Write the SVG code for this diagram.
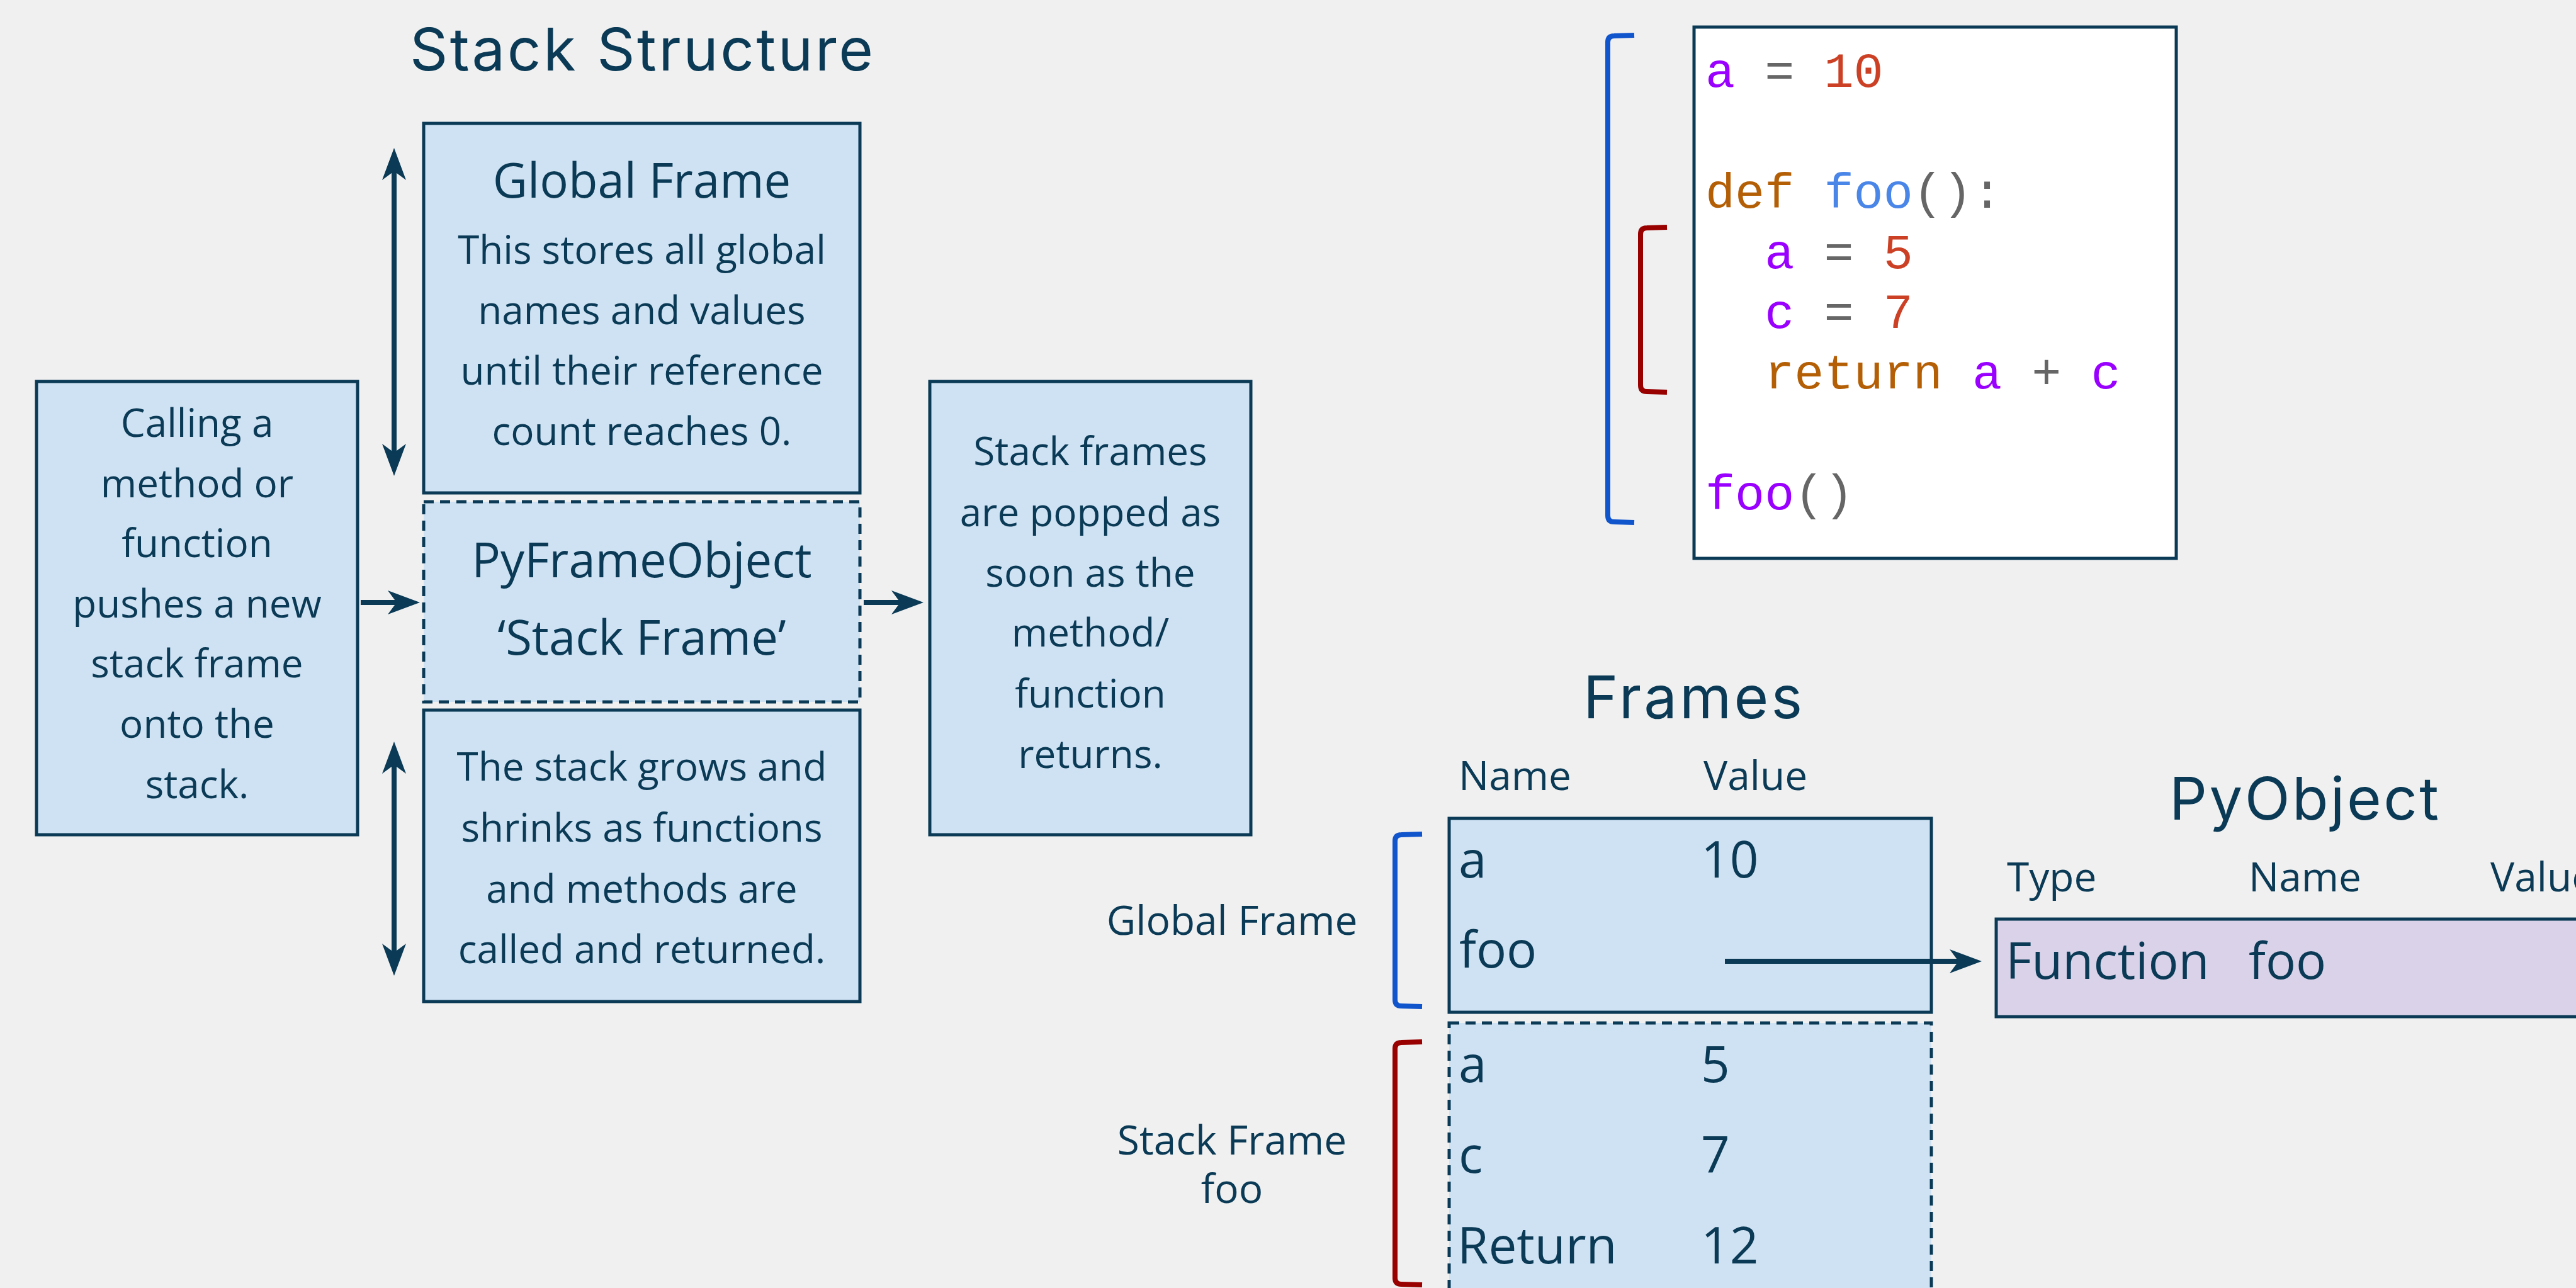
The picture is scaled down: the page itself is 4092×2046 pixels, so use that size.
<svg xmlns="http://www.w3.org/2000/svg" width="4092" height="2046" viewBox="0 0 4092 2046">
<defs>
<style>
.bg{fill:#f0f0f0}
.box{fill:#cfe2f3;stroke:#0a3a55;stroke-width:5}
.dash{stroke-dasharray:16 10}
.pur{fill:#d9d2e9;stroke:#0a3a55;stroke-width:5}
.code{fill:#ffffff;stroke:#0a3a55;stroke-width:5}
.t{font-family:"Open Sans","Noto Sans",sans-serif;fill:#0a3a55}
.c{text-anchor:middle}
.body{font-size:62px}
.head{font-size:76px}
.cell{font-size:80px}
.col{font-size:64px}
.title{font-family:Inter,"Open Sans",sans-serif;font-size:94px;fill:#0a3a55;text-anchor:middle}
.mono{font-family:"Liberation Mono","Courier New",monospace;font-size:78.5px}
.v{fill:#9900ff}.g{fill:#666666}.n{fill:#cc4125}.k{fill:#b45f06}.f{fill:#4a86e8}
.conn{stroke:#0a3a55;stroke-width:8;fill:none}
.brb{stroke:#1155cc;stroke-width:8;fill:none}
.brr{stroke:#990000;stroke-width:8;fill:none}
</style>
<marker id="ah" markerUnits="userSpaceOnUse" viewBox="-60 -22 62 44" refX="-30" refY="0" markerWidth="62" markerHeight="44" orient="auto-start-reverse">
<path d="M0,0 L-51,-19 L-37,0 L-51,19 Z" fill="#0a3a55"/>
</marker>
</defs>
<rect class="bg" x="0" y="0" width="4092" height="2046"/>

<g id="title-stack">
<text class="title" x="1019" y="112" textLength="736" lengthAdjust="spacing">Stack Structure</text>
</g>

<g id="global-frame">
<rect class="box" x="673" y="196" width="693" height="587"/>
<text class="t c head" x="1019.5" y="314">Global Frame</text>
<text class="t c body" x="1019.5" y="419">This stores all global</text>
<text class="t c body" x="1019.5" y="515">names and values</text>
<text class="t c body" x="1019.5" y="611">until their reference</text>
<text class="t c body" x="1019.5" y="707">count reaches 0.</text>
</g>

<g id="pyframeobject">
<rect class="box dash" x="673" y="797" width="693" height="318"/>
<text class="t c head" x="1019.5" y="917">PyFrameObject</text>
<text class="t c head" x="1019.5" y="1040">‘Stack Frame’</text>
</g>

<g id="stack-grows">
<rect class="box" x="673" y="1128" width="693" height="463"/>
<text class="t c body" x="1019.5" y="1240">The stack grows and</text>
<text class="t c body" x="1019.5" y="1337">shrinks as functions</text>
<text class="t c body" x="1019.5" y="1434">and methods are</text>
<text class="t c body" x="1019.5" y="1530">called and returned.</text>
</g>

<g id="calling">
<rect class="box" x="58" y="606" width="510" height="720"/>
<text class="t c body" x="313" y="694">Calling a</text>
<text class="t c body" x="313" y="790">method or</text>
<text class="t c body" x="313" y="885">function</text>
<text class="t c body" x="313" y="981">pushes a new</text>
<text class="t c body" x="313" y="1076">stack frame</text>
<text class="t c body" x="313" y="1172">onto the</text>
<text class="t c body" x="313" y="1268">stack.</text>
</g>

<g id="popped">
<rect class="box" x="1477" y="606" width="510" height="720"/>
<text class="t c body" x="1732" y="739">Stack frames</text>
<text class="t c body" x="1732" y="836">are popped as</text>
<text class="t c body" x="1732" y="932">soon as the</text>
<text class="t c body" x="1732" y="1027">method/</text>
<text class="t c body" x="1732" y="1124">function</text>
<text class="t c body" x="1732" y="1220">returns.</text>
</g>

<g id="code">
<rect class="code" x="2691" y="43" width="766" height="844"/>
<text class="mono" x="2709" y="138"><tspan class="v">a</tspan><tspan class="g"> = </tspan><tspan class="n">10</tspan></text>
<text class="mono" x="2709" y="330"><tspan class="k">def</tspan><tspan> </tspan><tspan class="f">foo</tspan><tspan class="g">():</tspan></text>
<text class="mono" x="2709" y="426" xml:space="preserve"><tspan class="v">  a</tspan><tspan class="g"> = </tspan><tspan class="n">5</tspan></text>
<text class="mono" x="2709" y="521" xml:space="preserve"><tspan class="v">  c</tspan><tspan class="g"> = </tspan><tspan class="n">7</tspan></text>
<text class="mono" x="2709" y="617" xml:space="preserve"><tspan class="k">  return</tspan><tspan class="v"> a</tspan><tspan class="g"> + </tspan><tspan class="v">c</tspan></text>
<text class="mono" x="2709" y="809"><tspan class="v">foo</tspan><tspan class="g">()</tspan></text>
</g>

<g id="code-brackets">
<path class="brb" d="M2596,56 L2564,57 Q2554,57 2554,67 L2554,819 Q2554,829 2564,829 L2596,830"/>
<path class="brr" d="M2648,361 L2616,362 Q2606,362 2606,372 L2606,612 Q2606,622 2616,622 L2648,623"/>
</g>

<g id="title-frames">
<text class="title" x="2689" y="1141" textLength="348" lengthAdjust="spacing">Frames</text>
<text class="t col" x="2317" y="1255">Name</text>
<text class="t col" x="2706" y="1255">Value</text>
</g>

<g id="frame-global">
<rect class="box" x="2302" y="1300" width="766" height="308"/>
<text class="t cell" x="2317" y="1394">a</text>
<text class="t cell" x="2702" y="1394">10</text>
<text class="t cell" x="2318" y="1537">foo</text>
</g>

<g id="frame-stack">
<rect class="box dash" x="2302" y="1625" width="766" height="460"/>
<text class="t cell" x="2317" y="1719">a</text>
<text class="t cell" x="2702" y="1719">5</text>
<text class="t cell" x="2317" y="1863">c</text>
<text class="t cell" x="2702" y="1863">7</text>
<text class="t cell" x="2315" y="2007">Return</text>
<text class="t cell" x="2702" y="2007">12</text>
</g>

<g id="frame-labels">
<path class="brb" d="M2259,1325 L2226,1326 Q2216,1326 2216,1336 L2216,1588 Q2216,1598 2226,1598 L2259,1599"/>
<path class="brr" d="M2259,1655 L2226,1656 Q2216,1656 2216,1666 L2216,2030 Q2216,2040 2226,2040 L2259,2041"/>
<text class="t c col" x="1957" y="1485">Global Frame</text>
<text class="t c col" x="1957" y="1834">Stack Frame</text>
<text class="t c col" x="1957" y="1911">foo</text>
</g>

<g id="pyobject">
<text class="title" x="3660" y="1302" textLength="428" lengthAdjust="spacing">PyObject</text>
<text class="t col" x="3188" y="1416">Type</text>
<text class="t col" x="3572" y="1416">Name</text>
<text class="t col" x="3956" y="1416">Value</text>
<rect class="pur" x="3171" y="1460" width="960" height="155"/>
<text class="t cell" x="3186" y="1555">Function</text>
<text class="t cell" x="3572" y="1555">foo</text>
</g>

<g id="connectors">
<line class="conn" x1="573" y1="957" x2="637" y2="957" marker-end="url(#ah)"/>
<line class="conn" x1="1372" y1="957" x2="1437" y2="957" marker-end="url(#ah)"/>
<line class="conn" x1="626" y1="265" x2="626" y2="726" marker-start="url(#ah)" marker-end="url(#ah)"/>
<line class="conn" x1="626" y1="1208" x2="626" y2="1520" marker-start="url(#ah)" marker-end="url(#ah)"/>
<line class="conn" x1="2740" y1="1527" x2="3118" y2="1527" marker-end="url(#ah)"/>
</g>
</svg>
